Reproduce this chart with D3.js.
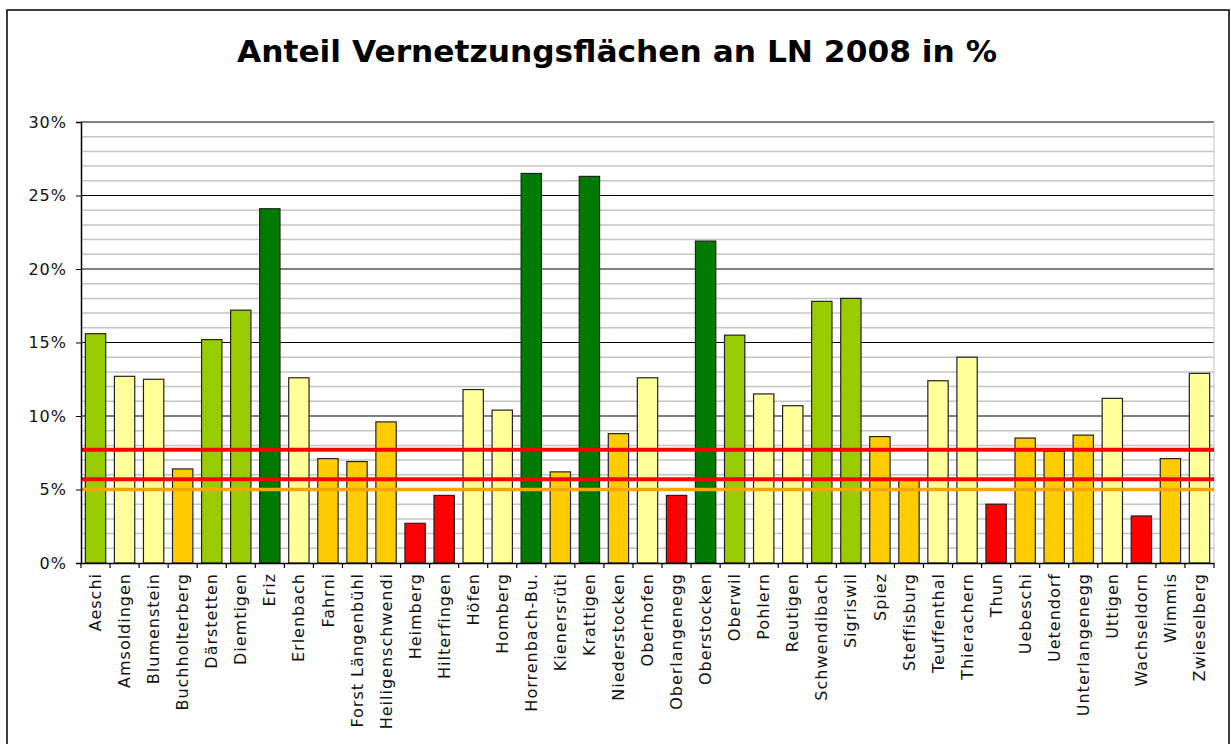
<!DOCTYPE html>
<html>
<head>
<meta charset="utf-8">
<script src="https://cdn.jsdelivr.net/npm/d3@7"></script>
<style>
    body { margin: 0; background: #fff; }
    text { font-family: "DejaVu Sans", Verdana, sans-serif; }
</style>
</head>
<body>
<div id="chart"></div>
<script>
const gemeinden = ["Aeschi", "Amsoldingen", "Blumenstein", "Buchholterberg", "Därstetten", "Diemtigen", "Eriz",
    "Erlenbach", "Fahrni", "Forst Längenbühl", "Heiligenschwendi", "Heimberg", "Hilterfingen", "Höfen", "Homberg",
    "Horrenbach-Bu.", "Kienersrüti", "Krattigen", "Niederstocken", "Oberhofen", "Oberlangenegg", "Oberstocken",
    "Oberwil", "Pohlern", "Reutigen", "Schwendibach", "Sigriswil", "Spiez", "Steffisburg", "Teuffenthal",
    "Thierachern", "Thun", "Uebeschi", "Uetendorf", "Unterlangenegg", "Uttigen", "Wachseldorn", "Wimmis",
    "Zwieselberg"];
const anteil = [15.6, 12.7, 12.5, 6.4, 15.2, 17.2, 24.1, 12.6, 7.1, 6.9, 9.6, 2.7, 4.6, 11.8, 10.4,
    26.5, 6.2, 26.3, 8.8, 12.6, 4.6, 21.9, 15.5, 11.5, 10.7, 17.8, 18.0, 8.6, 5.7, 12.4,
    14.0, 4.0, 8.5, 7.6, 8.7, 11.2, 3.2, 7.1, 12.9];
const klassenGrenzen = [5, 10, 15, 20];
const klassenFarben = ["#ff0000", "#ffcc00", "#ffff99", "#99cc00", "#007a00"];
const refLinien = [7.7, 5.7, 5.0];
const refFarben = ["#ff0000", "#ff0000", "#f5a400"];
const yTicks = [0, 5, 10, 15, 20, 25, 30];
const titel = "Anteil Vernetzungsflächen an LN 2008 in %";

const width = 1231, height = 744;
const plot = {left: 81, right: 1214, top: 122, bottom: 563};

const svg = d3.select("#chart").append("svg")
    .attr("width", width)
    .attr("height", height);

// outer frame of the chart object
svg.append("rect")
    .attr("x", 7).attr("y", 10)
    .attr("width", 1222).attr("height", 760)
    .attr("fill", "#fff")
    .attr("stroke", "#000")
    .attr("stroke-width", 1.5);

svg.append("text")
    .attr("x", 237).attr("y", 62)
    .attr("font-size", 30)
    .attr("font-weight", "bold")
    .attr("textLength", 760)
    .attr("lengthAdjust", "spacingAndGlyphs")
    .text(titel);

const x = d3.scaleBand()
    .domain(gemeinden)
    .range([plot.left, plot.right])
    .paddingInner(0.3)
    .paddingOuter(0.15);

const y = d3.scaleLinear()
    .domain([0, 30])
    .range([plot.bottom, plot.top]);

const farbe = d3.scaleThreshold()
    .domain(klassenGrenzen)
    .range(klassenFarben);

// minor gridlines every 1 %
const minor = d3.range(1, 30).filter(v => v % 5 !== 0);
svg.append("g").selectAll("line")
    .data(minor)
    .join("line")
    .attr("x1", plot.left).attr("x2", plot.right)
    .attr("y1", d => y(d)).attr("y2", d => y(d))
    .attr("stroke", "#c4c4c4")
    .attr("stroke-width", 1.5);

// major gridlines
svg.append("g").selectAll("line")
    .data(yTicks.filter(d => d > 0))
    .join("line")
    .attr("x1", plot.left).attr("x2", plot.right)
    .attr("y1", d => y(d)).attr("y2", d => y(d))
    .attr("stroke", "#000")
    .attr("stroke-width", 1);

svg.append("line")
    .attr("x1", plot.right).attr("x2", plot.right)
    .attr("y1", plot.top).attr("y2", plot.bottom)
    .attr("stroke", "#c4c4c4");

// bars
svg.append("g").selectAll("rect")
    .data(gemeinden.map((g, i) => ({name: g, wert: anteil[i]})))
    .join("rect")
    .attr("x", d => x(d.name))
    .attr("y", d => y(d.wert))
    .attr("width", x.bandwidth())
    .attr("height", d => y(0) - y(d.wert))
    .attr("fill", d => farbe(d.wert))
    .attr("stroke", "#222")
    .attr("stroke-width", 1.2);

// reference lines
svg.append("g").selectAll("line")
    .data(refLinien)
    .join("line")
    .attr("x1", plot.left).attr("x2", plot.right)
    .attr("y1", d => y(d)).attr("y2", d => y(d))
    .attr("stroke", (d, i) => refFarben[i])
    .attr("stroke-width", (d, i) => i < 2 ? 4 : 3.5);

// y axis
const yAxis = svg.append("g")
    .attr("transform", `translate(${plot.left},0)`)
    .call(d3.axisLeft(y).tickValues(yTicks).tickFormat(d => d + "%").tickSize(5).tickPadding(9));
yAxis.select(".domain").attr("stroke", "#000").attr("stroke-width", 1.5);
yAxis.selectAll("text")
    .attr("font-size", 16)
    .attr("letter-spacing", 1)
    .attr("fill", "#111")
    .style("font-family", "'DejaVu Sans', sans-serif");

// x axis: boundary ticks between categories
const xAxis = svg.append("g")
    .attr("transform", `translate(0,${plot.bottom})`)
    .call(d3.axisBottom(x).tickSize(0).tickPadding(0).tickSizeOuter(0));
xAxis.select(".domain").attr("stroke", "#000").attr("stroke-width", 1.5);
xAxis.selectAll("text")
    .attr("transform", "rotate(-90)")
    .attr("x", -10)
    .attr("y", 0)
    .attr("dy", "0.35em")
    .attr("text-anchor", "end")
    .attr("font-size", 16)
    .attr("letter-spacing", 1)
    .attr("fill", "#111")
    .style("font-family", "'DejaVu Sans', sans-serif");

const grenzen = gemeinden.map(g => x(g) - x.step() * x.paddingInner() / 2).concat([plot.right]);
xAxis.append("g").selectAll("line")
    .data(grenzen)
    .join("line")
    .attr("x1", d => d).attr("x2", d => d)
    .attr("y1", 0).attr("y2", 5)
    .attr("stroke", "#000")
    .attr("stroke-width", 1.2);
</script>
</body>
</html>
